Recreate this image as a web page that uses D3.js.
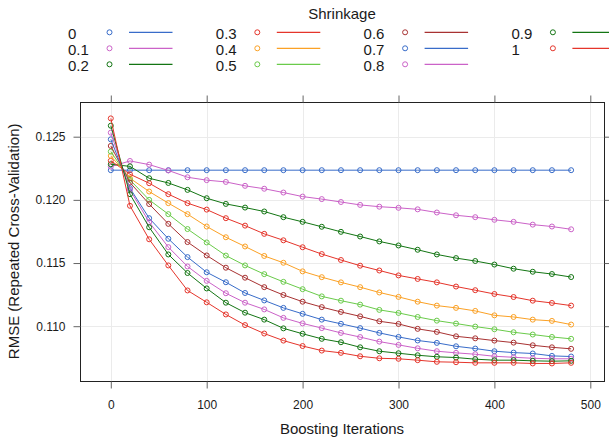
<!DOCTYPE html>
<html><head><meta charset="utf-8">
<script src="https://cdn.jsdelivr.net/npm/d3@7"></script>
<style>
body{margin:0;background:#fff}
svg{display:block}
text{font-family:"Liberation Sans",Arial,Helvetica,sans-serif;fill:#1a1a1a}
</style>
</head><body>
<svg id="chart" width="609" height="440"></svg>
<script>
// ---- data ----
const iterations = [0,20,40,60,80,100,120,140,160,180,200,220,240,260,280,300,320,340,360,380,400,420,440,460,480];
const shrinkage = ["0","0.1","0.2","0.3","0.4","0.5","0.6","0.7","0.8","0.9","1"];
const xTicks = [0,100,200,300,400,500];
const yTicks = [0.110,0.115,0.120,0.125];
const yTickLabels = ["0.110","0.115","0.120","0.125"];

const rmse_0   = [0.12235,0.12235,0.12235,0.12235,0.12235,0.12235,0.12235,0.12235,0.12235,0.12235,0.12235,0.12235,0.12235,0.12235,0.12235,0.12235,0.12235,0.12235,0.12235,0.12235,0.12235,0.12235,0.12235,0.12235,0.12235];
const rmse_0_1 = [0.12263,0.12308,0.12279,0.12233,0.12179,0.12156,0.12142,0.12111,0.12088,0.12058,0.12026,0.12006,0.11983,0.11960,0.11946,0.11937,0.11925,0.11900,0.11878,0.11863,0.11842,0.11826,0.11804,0.11789,0.11767];
const rmse_0_2 = [0.12282,0.12265,0.12171,0.12134,0.12079,0.12013,0.11968,0.11939,0.11908,0.11863,0.11826,0.11787,0.11747,0.11710,0.11671,0.11639,0.11605,0.11568,0.11539,0.11516,0.11488,0.11455,0.11431,0.11413,0.11389];
const rmse_0_3 = [0.12310,0.12203,0.12132,0.12045,0.11974,0.11923,0.11855,0.11796,0.11731,0.11680,0.11625,0.11571,0.11524,0.11479,0.11441,0.11402,0.11374,0.11347,0.11314,0.11285,0.11255,0.11231,0.11202,0.11184,0.11163];
const rmse_0_4 = [0.12348,0.12171,0.12066,0.11974,0.11887,0.11789,0.11704,0.11631,0.11556,0.11502,0.11434,0.11388,0.11347,0.11309,0.11267,0.11232,0.11194,0.11163,0.11145,0.11121,0.11086,0.11073,0.11052,0.11042,0.11013];
const rmse_0_5 = [0.12382,0.12158,0.12000,0.11887,0.11769,0.11663,0.11559,0.11481,0.11412,0.11351,0.11293,0.11236,0.11202,0.11171,0.11129,0.11105,0.11073,0.11044,0.11021,0.10997,0.10976,0.10952,0.10934,0.10915,0.10900];
const rmse_0_6 = [0.12427,0.12137,0.11967,0.11810,0.11666,0.11560,0.11463,0.11384,0.11309,0.11247,0.11194,0.11151,0.11113,0.11078,0.11039,0.11018,0.10979,0.10955,0.10920,0.10904,0.10886,0.10870,0.10849,0.10833,0.10821];
const rmse_0_7 = [0.12479,0.12092,0.11855,0.11692,0.11547,0.11427,0.11348,0.11263,0.11204,0.11145,0.11098,0.11052,0.11019,0.10985,0.10947,0.10915,0.10887,0.10868,0.10841,0.10823,0.10802,0.10791,0.10784,0.10765,0.10760];
const rmse_0_8 = [0.12532,0.12079,0.11824,0.11626,0.11473,0.11359,0.11261,0.11186,0.11133,0.11066,0.11022,0.10985,0.10947,0.10914,0.10878,0.10852,0.10825,0.10802,0.10789,0.10778,0.10762,0.10754,0.10746,0.10742,0.10742];
const rmse_0_9 = [0.12587,0.12045,0.11783,0.11568,0.11421,0.11299,0.11186,0.11107,0.11052,0.10983,0.10940,0.10900,0.10873,0.10833,0.10802,0.10786,0.10770,0.10758,0.10752,0.10739,0.10731,0.10731,0.10726,0.10723,0.10726];
const rmse_1   = [0.12645,0.11953,0.11688,0.11481,0.11283,0.11189,0.11093,0.11009,0.10942,0.10886,0.10843,0.10807,0.10789,0.10762,0.10746,0.10742,0.10731,0.10718,0.10715,0.10710,0.10710,0.10710,0.10705,0.10705,0.10710];

const seriesValues = [rmse_0,rmse_0_1,rmse_0_2,rmse_0_3,rmse_0_4,rmse_0_5,rmse_0_6,rmse_0_7,rmse_0_8,rmse_0_9,rmse_1];
const palette = ["#386CC9","#CB62C8","#137513","#E5352B","#FBA125","#6ACB4A","#A83232"];

// ---- layout ----
const svg = d3.select("#chart");
const panel = {left:80, right:604, top:101.7, bottom:381};
const x = d3.scaleLinear().domain([0,500]).range([110.8,590.3]);
const y = d3.scaleLinear().domain([0.110,0.125]).range([326.2,136.7]);
const FONT = '"Liberation Sans",Arial,Helvetica,sans-serif';

// gridlines
const grid = svg.append("g").attr("stroke","#ebebeb").attr("stroke-width",1);
xTicks.forEach(t=>grid.append("line").attr("x1",Math.round(x(t))+0.5).attr("x2",Math.round(x(t))+0.5).attr("y1",panel.top).attr("y2",panel.bottom));
yTicks.forEach(t=>grid.append("line").attr("y1",Math.round(y(t))+0.5).attr("y2",Math.round(y(t))+0.5).attr("x1",panel.left).attr("x2",panel.right));

// series
const line = d3.line().x((d,i)=>x(iterations[i])).y(d=>y(d));
seriesValues.forEach((vals,k)=>{
  const col = palette[k % palette.length];
  const g = svg.append("g");
  g.append("path").attr("d",line(vals)).attr("fill","none").attr("stroke",col).attr("stroke-width",1);
  g.selectAll("circle").data(vals).join("circle")
    .attr("cx",(d,i)=>x(iterations[i])).attr("cy",d=>y(d)).attr("r",2.5)
    .attr("fill","none").attr("stroke",col).attr("stroke-width",1);
});

// frame
svg.append("rect").attr("x",panel.left+0.5).attr("y",Math.round(panel.top)+0.5)
  .attr("width",panel.right-panel.left).attr("height",Math.round(panel.bottom)-Math.round(panel.top))
  .attr("fill","none").attr("stroke","#222").attr("stroke-width",1);

// axes (ticks on all four sides, labels bottom & left)
function styleAxis(g, labels){
  g.select(".domain").remove();
  g.selectAll(".tick line").attr("stroke","#666");
  g.selectAll("text").attr("font-family",FONT).attr("font-size",12).attr("fill","#1a1a1a");
  if(!labels) g.selectAll("text").remove();
}
svg.append("g").attr("transform",`translate(0,${Math.round(panel.bottom)+0.5})`)
  .call(d3.axisBottom(x).tickValues(xTicks).tickSize(7).tickPadding(12).tickFormat(d3.format("d")))
  .call(g=>styleAxis(g,true));
svg.append("g").attr("transform",`translate(0,${Math.round(panel.top)+0.5})`)
  .call(d3.axisTop(x).tickValues(xTicks).tickSize(7)).call(g=>styleAxis(g,false));
svg.append("g").attr("transform",`translate(${panel.left+0.5},0)`)
  .call(d3.axisLeft(y).tickValues(yTicks).tickSize(7).tickPadding(8).tickFormat((d,i)=>yTickLabels[i]))
  .call(g=>styleAxis(g,true));
svg.append("g").attr("transform",`translate(${panel.right+0.5},0)`)
  .call(d3.axisRight(y).tickValues(yTicks).tickSize(7)).call(g=>styleAxis(g,false));

// axis titles
svg.append("text").attr("x",(panel.left+panel.right)/2).attr("y",433.5)
  .attr("text-anchor","middle").attr("font-size",15).text("Boosting Iterations");
svg.append("text").attr("transform",`translate(19,${(panel.top+panel.bottom)/2}) rotate(-90)`)
  .attr("text-anchor","middle").attr("font-size",15).text("RMSE (Repeated Cross-Validation)");

// legend
const legend = svg.append("g");
legend.append("text").attr("x",342).attr("y",14).attr("dy","0.35em")
  .attr("text-anchor","middle").attr("font-size",15).text("Shrinkage");
const colX = [68,215.8,363.6,511.4];
const rowY = [33.3,49.3,65.3];
shrinkage.forEach((s,k)=>{
  const c = Math.floor(k/3), r = k%3;
  const col = palette[k % palette.length];
  const gx = colX[c], gy = rowY[r];
  legend.append("text").attr("x",gx).attr("y",gy).attr("dy","0.35em").attr("font-size",15).text(s);
  legend.append("circle").attr("cx",gx+41.5).attr("cy",gy-1).attr("r",2.5)
    .attr("fill","none").attr("stroke",col).attr("stroke-width",1);
  legend.append("line").attr("x1",gx+61).attr("x2",gx+104.5).attr("y1",gy-1).attr("y2",gy-1)
    .attr("stroke",col).attr("stroke-width",1.2);
});
</script>
</body></html>
